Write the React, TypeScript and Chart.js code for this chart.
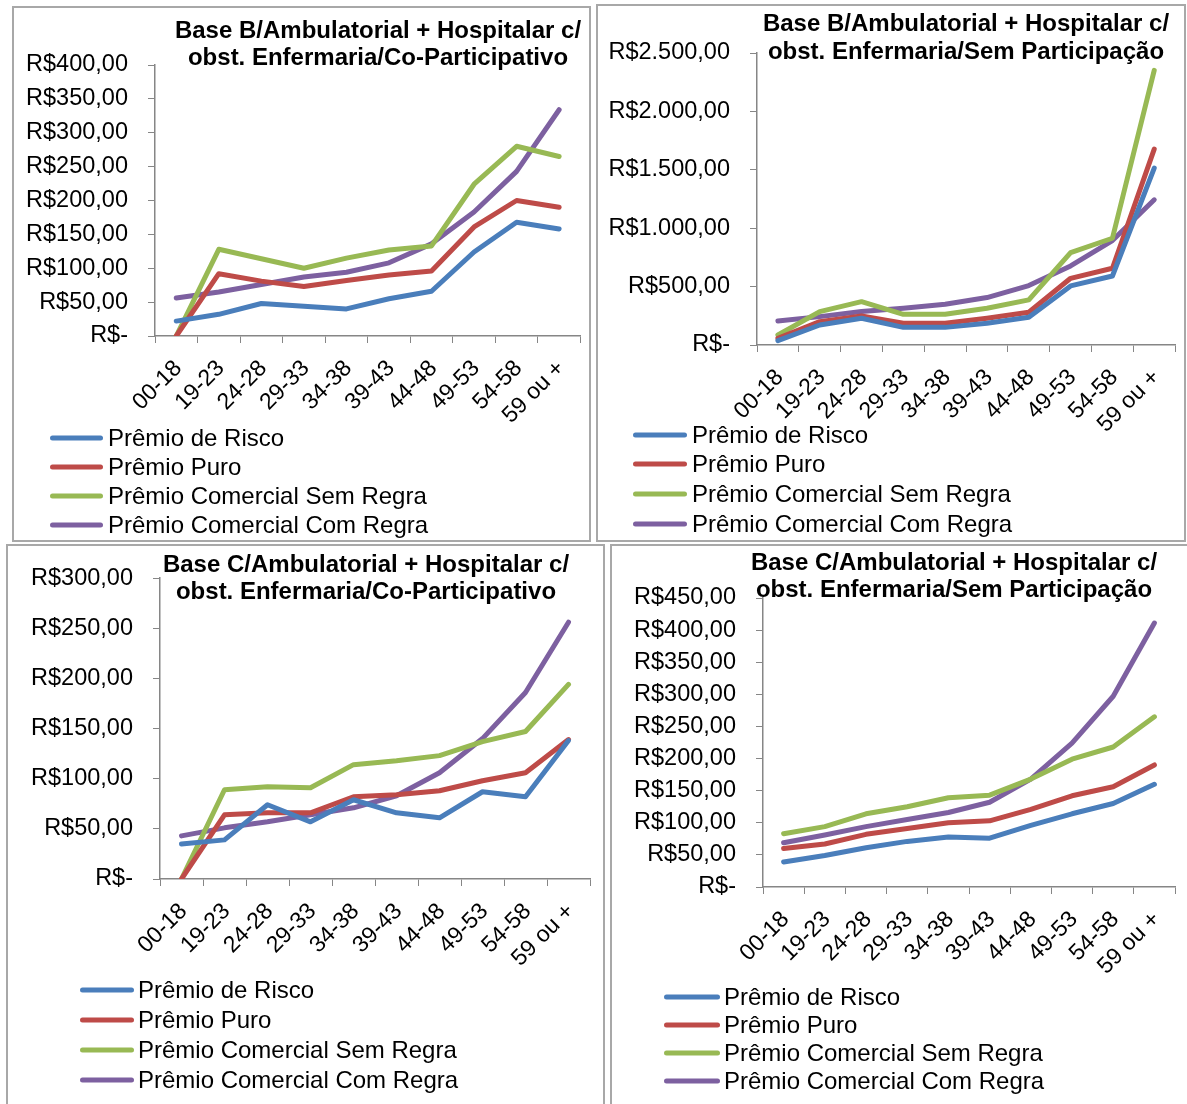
import React, { useEffect, useRef } from 'react';
import { Chart, registerables } from 'chart.js';

Chart.register(...registerables);

// Age bands shared by every panel
const ageBands = ['00-18', '19-23', '24-28', '29-33', '34-38', '39-43', '44-48', '49-53', '54-58', '59 ou +'];

const seriesNames = [
  'Prêmio de Risco',
  'Prêmio Puro',
  'Prêmio Comercial Sem Regra',
  'Prêmio Comercial Com Regra',
];

// Base B - Co-Participativo
const riscoBCo = [22, 32, 48, 44, 40, 55, 66, 124, 168, 158];
const puroBCo = [0, 92, 81, 73, 82, 90, 96, 161, 200, 190];
const semRegraBCo = [0, 128, 114, 100, 115, 127, 133, 224, 280, 265];
const comRegraBCo = [56, 65, 76, 87, 94, 108, 136, 183, 243, 334];

// Base B - Sem Participação
const riscoBSem = [37, 171, 229, 151, 151, 186, 237, 506, 591, 1514];
const puroBSem = [57, 200, 249, 186, 186, 229, 280, 571, 657, 1677];
const semRegraBSem = [86, 286, 371, 263, 263, 314, 386, 791, 914, 2351];
const comRegraBSem = [206, 243, 286, 314, 349, 406, 509, 677, 894, 1243];

// Base C - Co-Participativo
const riscoCCo = [35, 39, 74, 57, 79, 66, 61, 87, 82, 138];
const puroCCo = [0, 64, 66, 66, 82, 84, 88, 98, 106, 139];
const semRegraCCo = [0, 89, 92, 91, 114, 118, 123, 137, 147, 194];
const comRegraCCo = [43, 51, 57, 64, 71, 83, 106, 140, 186, 256];

// Base C - Sem Participação
const riscoCSem = [39, 49, 61, 71, 78, 76, 96, 114, 130, 160];
const puroCSem = [60, 67, 82, 91, 100, 103, 121, 142, 156, 190];
const semRegraCSem = [83, 94, 114, 125, 139, 143, 168, 199, 218, 265];
const comRegraCSem = [69, 81, 94, 105, 116, 132, 168, 224, 297, 411];

const titleBCo = ['Base B/Ambulatorial + Hospitalar c/', 'obst. Enfermaria/Co-Participativo'];
const titleBSem = ['Base B/Ambulatorial + Hospitalar c/', 'obst. Enfermaria/Sem Participação'];
const titleCCo = ['Base C/Ambulatorial + Hospitalar c/', 'obst. Enfermaria/Co-Participativo'];
const titleCSem = ['Base C/Ambulatorial + Hospitalar c/', 'obst. Enfermaria/Sem Participação'];

const seriesColors = ['#4A7EBB', '#BE4B48', '#98B954', '#7D60A0'];
const AXIS_COLOR = '#868686';
const FONT = '"Liberation Sans", Arial, sans-serif';
const Y_TICK_SIZE = 23.5;
const X_TICK_SIZE = 23;
const LEGEND_SIZE = 24;
const TITLE_SIZE = 24;
const X_AXIS_H = 100;

function brl(v: number): string {
  if (v === 0) return 'R$-';
  const s = Math.round(v).toString().replace(/\B(?=(\d{3})+(?!\d))/g, '.');
  return 'R$' + s + ',00';
}

type Box = { left: number; top: number; width: number; height: number };
type PanelSpec = {
  id: string;
  title: string[];
  values: number[][];
  yMax: number;
  yStep: number;
  box: Box;
  plot: { left: number; right: number; top: number; bottom: number };
  titlePos: { x: number; ys: number[] };
  legend: { x1: number; x2: number; tx: number; rows: number[] };
};

const panels: PanelSpec[] = [
  {
    id: 'bco',
    title: titleBCo,
    values: [riscoBCo, puroBCo, semRegraBCo, comRegraBCo],
    yMax: 400,
    yStep: 50,
    box: { left: 12, top: 6, width: 579, height: 536 },
    plot: { left: 155, right: 584, top: 65, bottom: 336 },
    titlePos: { x: 378, ys: [31, 58] },
    legend: { x1: 50, x2: 103, tx: 108, rows: [438, 467, 496, 525] },
  },
  {
    id: 'bsem',
    title: titleBSem,
    values: [riscoBSem, puroBSem, semRegraBSem, comRegraBSem],
    yMax: 2500,
    yStep: 500,
    box: { left: 596, top: 4, width: 590, height: 538 },
    plot: { left: 757, right: 1181, top: 53, bottom: 345 },
    titlePos: { x: 966, ys: [24, 52] },
    legend: { x1: 633, x2: 687, tx: 692, rows: [435, 464, 494, 524] },
  },
  {
    id: 'cco',
    title: titleCCo,
    values: [riscoCCo, puroCCo, semRegraCCo, comRegraCCo],
    yMax: 300,
    yStep: 50,
    box: { left: 6, top: 544, width: 599, height: 570 },
    plot: { left: 160, right: 590, top: 573, bottom: 879 },
    titlePos: { x: 366, ys: [565, 592] },
    legend: { x1: 80, x2: 134, tx: 138, rows: [990, 1020, 1050, 1080] },
  },
  {
    id: 'csem',
    title: titleCSem,
    values: [riscoCSem, puroCSem, semRegraCSem, comRegraCSem],
    yMax: 450,
    yStep: 50,
    box: { left: 610, top: 544, width: 582, height: 570 },
    plot: { left: 763, right: 1175, top: 598, bottom: 887 },
    titlePos: { x: 954, ys: [563, 590] },
    legend: { x1: 664, x2: 720, tx: 724, rows: [997, 1025, 1053, 1081] },
  },
];

// Draws the two-line title and the stacked legend at fixed spots in the panel
function makeDecor(spec: PanelSpec) {
  const { box } = spec;
  return {
    id: 'panelDecor_' + spec.id,
    afterDraw(chart: any) {
      const ctx = chart.ctx as CanvasRenderingContext2D;
      ctx.save();
      ctx.fillStyle = '#000';
      ctx.textAlign = 'center';
      ctx.textBaseline = 'middle';
      ctx.font = `bold ${TITLE_SIZE}px ${FONT}`;
      spec.title.forEach((line, i) => {
        ctx.fillText(line, spec.titlePos.x - box.left, spec.titlePos.ys[i] - box.top);
      });

      ctx.textAlign = 'left';
      ctx.font = `${LEGEND_SIZE}px ${FONT}`;
      chart.data.datasets.forEach((ds: any, i: number) => {
        const y = spec.legend.rows[i] - box.top;
        ctx.strokeStyle = ds.borderColor;
        ctx.lineWidth = 5;
        ctx.lineCap = 'round';
        ctx.beginPath();
        ctx.moveTo(spec.legend.x1 - box.left + 2.5, y);
        ctx.lineTo(spec.legend.x2 - box.left - 2.5, y);
        ctx.stroke();
        ctx.fillStyle = '#000';
        ctx.fillText(ds.label, spec.legend.tx - box.left, y + 1);
      });
      ctx.restore();
    },
  };
}

function Panel({ spec }: { spec: PanelSpec }) {
  const ref = useRef<HTMLCanvasElement | null>(null);
  const { box, plot } = spec;

  useEffect(() => {
    if (!ref.current) return;
    const padTop = plot.top - box.top;
    const padRight = box.width - (plot.right - box.left);
    const plotBottomRel = plot.bottom - box.top;
    const padBottom = box.height - plotBottomRel - X_AXIS_H;
    const yAxisW = plot.left - box.left;

    const chart = new Chart(ref.current, {
      type: 'line',
      data: {
        labels: ageBands,
        datasets: spec.values.map((vals, i) => ({
          label: seriesNames[i],
          data: vals,
          borderColor: seriesColors[i],
          backgroundColor: seriesColors[i],
          borderWidth: 5,
          pointRadius: 0,
          pointHoverRadius: 0,
          tension: 0,
          fill: false,
          borderCapStyle: 'round',
          borderJoinStyle: 'round',
        })),
      },
      options: {
        responsive: false,
        animation: false,
        devicePixelRatio: 1,
        events: [],
        layout: { padding: { left: 0, top: padTop, right: padRight, bottom: padBottom } },
        plugins: {
          legend: { display: false },
          title: { display: false },
          tooltip: { enabled: false },
        },
        scales: {
          x: {
            type: 'category',
            offset: true,
            grid: {
              offset: true,
              drawOnChartArea: false,
              drawTicks: true,
              tickLength: 7,
              color: AXIS_COLOR,
            },
            border: { display: true, color: AXIS_COLOR, width: 1.5 },
            ticks: {
              autoSkip: false,
              minRotation: 45,
              maxRotation: 45,
              padding: 12,
              labelOffset: 2,
              color: '#000',
              font: { family: FONT, size: X_TICK_SIZE },
            },
            afterFit: (s: any) => {
              s.height = X_AXIS_H;
            },
          },
          y: {
            min: 0,
            max: spec.yMax,
            grid: {
              drawOnChartArea: false,
              drawTicks: true,
              tickLength: 7,
              color: AXIS_COLOR,
            },
            border: { display: true, color: AXIS_COLOR, width: 1.5 },
            ticks: {
              stepSize: spec.yStep,
              padding: 20,
              color: '#000',
              font: { family: FONT, size: Y_TICK_SIZE },
              callback: (v: any) => brl(Number(v)),
            },
            afterFit: (s: any) => {
              s.width = yAxisW;
            },
          },
        },
      },
      plugins: [makeDecor(spec)],
    } as any);
    return () => chart.destroy();
  }, [spec]);

  return (
    <div
      style={{
        position: 'absolute',
        left: box.left,
        top: box.top,
        width: box.width,
        height: box.height,
      }}
    >
      <canvas
        ref={ref}
        width={box.width}
        height={box.height}
        style={{ display: 'block', width: box.width, height: box.height }}
      />
      <div
        style={{
          position: 'absolute',
          inset: 0,
          border: '2px solid #A8A8A8',
          boxSizing: 'border-box',
          pointerEvents: 'none',
        }}
      />
    </div>
  );
}

export default function App() {
  return (
    <div
      style={{
        position: 'absolute',
        left: 0,
        top: 0,
        width: 1187,
        height: 1104,
        overflow: 'hidden',
        background: '#fff',
      }}
    >
      {panels.map((p) => (
        <Panel key={p.id} spec={p} />
      ))}
    </div>
  );
}
